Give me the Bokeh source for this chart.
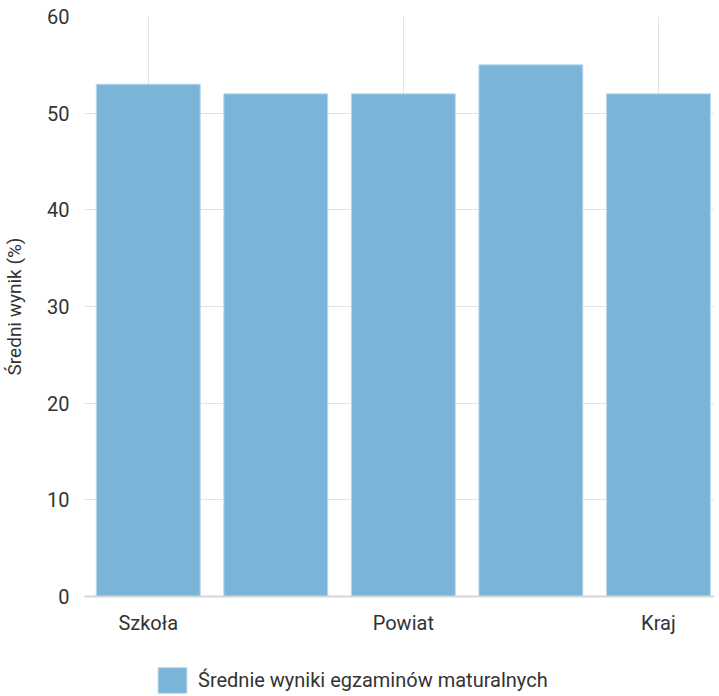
from bokeh.plotting import figure
from bokeh.layouts import column
from bokeh.models import ColumnDataSource, FixedTicker, Legend, LegendItem, Range1d
from bokeh.embed import file_html
from bokeh.resources import INLINE

categories = ["Szkoła", "Gmina", "Powiat", "Województwo", "Kraj"]
values = [53, 52, 52, 55, 52]
shown_ticks = [0, 2, 4]
series_name = "Średnie wyniki egzaminów maturalnych"
y_title = "Średni wynik (%)"

FONT = "Roboto"
BAR_FILL = "#7ab4d9"
BAR_LINE = "#b9daef"
TXT = "#333333"
src = ColumnDataSource(dict(x=list(range(len(categories))), top=values, cat=categories))

p = figure(frame_width=630, frame_height=580, output_backend="svg", toolbar_location=None,
           x_range=Range1d(-0.5, 4.44), y_range=Range1d(0, 60),
           min_border_left=81, min_border_right=0, min_border_top=16, min_border_bottom=58)
p.outline_line_color = None

r = p.vbar(x="x", top="top", width=0.815, source=src, fill_color=BAR_FILL,
           line_color=BAR_LINE, line_width=1)

p.xaxis.ticker = FixedTicker(ticks=shown_ticks)
p.xaxis.major_label_overrides = {i: categories[i] for i in shown_ticks}
p.yaxis.ticker = FixedTicker(ticks=[0, 10, 20, 30, 40, 50, 60])

for ax in (p.xaxis[0], p.yaxis[0]):
    ax.major_tick_line_color = None
    ax.minor_tick_line_color = None
    ax.major_label_text_font = FONT
    ax.major_label_text_font_size = "20px"
    ax.major_label_text_color = TXT
    ax.axis_label_text_font = FONT
    ax.axis_label_text_font_style = "normal"

p.yaxis.axis_line_color = None
p.yaxis.major_label_standoff = 9
p.yaxis.axis_label = y_title
p.yaxis.axis_label_text_font_size = "19px"
p.yaxis.axis_label_text_color = TXT
p.yaxis.axis_label_standoff = 18

p.xaxis.axis_line_color = "#d6d6d6"
p.xaxis.axis_line_width = 2
p.xaxis.major_label_standoff = 8

p.xgrid.grid_line_color = "#e2e2e2"
p.ygrid.grid_line_color = "#e2e2e2"
p.xgrid.ticker = FixedTicker(ticks=shown_ticks)

# legend strip below the chart (proxy bar placed outside the visible range)
lg = figure(width=711, height=40, output_backend="svg", toolbar_location=None,
            x_range=Range1d(0, 1), y_range=Range1d(0, 1),
            min_border=0, x_axis_type=None, y_axis_type=None)
lg.outline_line_color = None
lg.xgrid.visible = False
lg.ygrid.visible = False
lr = lg.vbar(x=[len(categories) + 10], top=[values[0]], width=0.5,
             fill_color=BAR_FILL, line_color=BAR_LINE, line_width=1)

legend = Legend(items=[LegendItem(label=series_name, renderers=[lr])],
                orientation="horizontal", location=(70, -2),
                label_text_font=FONT, label_text_font_size="20px", label_text_color=TXT,
                glyph_width=36, glyph_height=32, border_line_color=None,
                background_fill_alpha=0,
                margin=0, padding=4, spacing=0, label_standoff=8)
lg.add_layout(legend)

layout = column(p, lg, spacing=0)
open("out.html", "w").write(file_html(layout, INLINE))
